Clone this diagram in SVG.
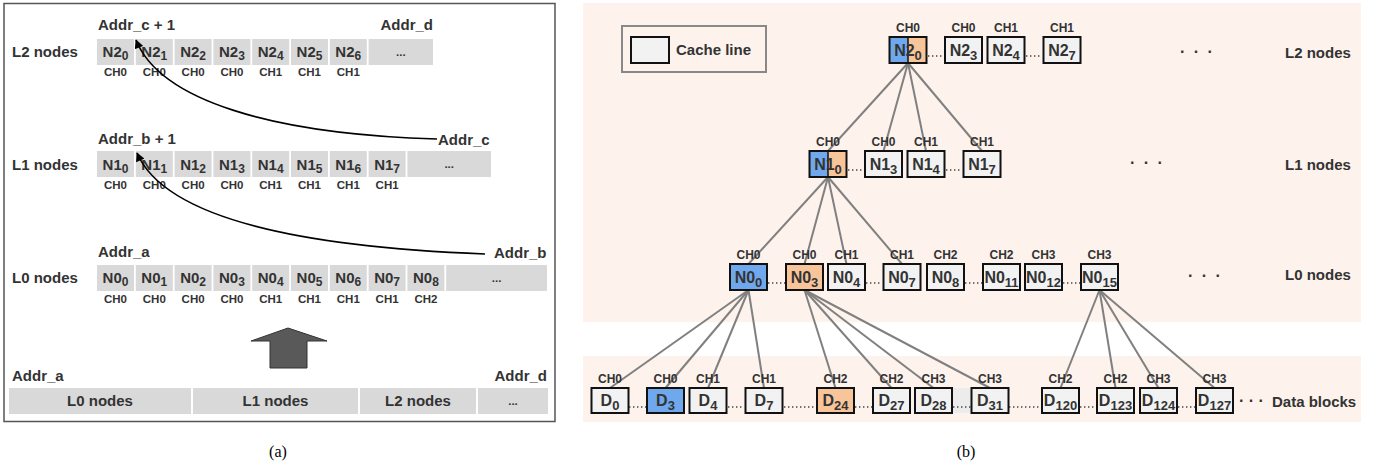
<svg xmlns="http://www.w3.org/2000/svg" width="1378" height="466" viewBox="0 0 1378 466">
<style>
text{font-family:"Liberation Sans",Arial,sans-serif;font-weight:bold;fill:#333}
.lbl{font-size:15px}
.cell{fill:#d9d9d9}
.ct{font-size:15px;text-anchor:middle}
.sub{font-size:12px}
.ch{font-size:11.5px;text-anchor:middle}
.rch{font-size:12px;text-anchor:middle}
.box{fill:#f2f2f2;stroke:#111;stroke-width:2}
.blue{fill:#6fa8ec}
.orange{fill:#f8c49a}
.bt{font-size:16px;text-anchor:middle}
.bsub{font-size:13px}
.dots{stroke:#444;stroke-width:1.4;stroke-dasharray:1.4 2.6}
.edge{stroke:#808080;stroke-width:2;fill:none}
.curve{stroke:#000;stroke-width:1.6;fill:none}
.cap{font-family:"Liberation Serif","Times New Roman",serif;font-weight:normal;font-size:16px;text-anchor:middle;fill:#000}
.ell{font-size:16px;letter-spacing:2px}
.ell2{font-size:16px}
</style>
<defs>
<marker id="ah" viewBox="0 0 10 10" refX="9" refY="5" markerWidth="10" markerHeight="9" markerUnits="userSpaceOnUse" orient="auto">
<path d="M0,0 L10,5 L0,10 z" fill="#000"/>
</marker>
</defs>
<rect width="1378" height="466" fill="#fff"/>

<!-- ===== Panel (a) ===== -->
<g id="panel-a">
<rect x="4" y="3.5" width="551" height="418" fill="#fff" stroke="#555" stroke-width="1.5"/>
</g>

<g id="row-l2">
<text class="lbl" x="12" y="57">L2 nodes</text>
<text class="lbl" x="98" y="30">Addr_c + 1</text>
<text class="lbl" x="433" y="30" text-anchor="end">Addr_d</text>
<rect class="cell" x="97" y="39" width="37" height="26"/>
<rect class="cell" x="135.8" y="39" width="37" height="26"/>
<rect class="cell" x="174.6" y="39" width="37" height="26"/>
<rect class="cell" x="213.4" y="39" width="37" height="26"/>
<rect class="cell" x="252.2" y="39" width="37" height="26"/>
<rect class="cell" x="291" y="39" width="37" height="26"/>
<rect class="cell" x="329.8" y="39" width="37" height="26"/>
<rect class="cell" x="368.6" y="39" width="64.4" height="26"/>
<text class="ct" x="115.5" y="57">N2<tspan class="sub" dy="3">0</tspan></text>
<text class="ct" x="154.3" y="57">N2<tspan class="sub" dy="3">1</tspan></text>
<text class="ct" x="193.1" y="57">N2<tspan class="sub" dy="3">2</tspan></text>
<text class="ct" x="231.9" y="57">N2<tspan class="sub" dy="3">3</tspan></text>
<text class="ct" x="270.7" y="57">N2<tspan class="sub" dy="3">4</tspan></text>
<text class="ct" x="309.5" y="57">N2<tspan class="sub" dy="3">5</tspan></text>
<text class="ct" x="348.3" y="57">N2<tspan class="sub" dy="3">6</tspan></text>
<text class="ch" x="400.8" y="56">...</text>
<text class="ch" x="115.5" y="76">CH0</text>
<text class="ch" x="154.3" y="76">CH0</text>
<text class="ch" x="193.1" y="76">CH0</text>
<text class="ch" x="231.9" y="76">CH0</text>
<text class="ch" x="270.7" y="76">CH1</text>
<text class="ch" x="309.5" y="76">CH1</text>
<text class="ch" x="348.3" y="76">CH1</text>
</g>

<g id="row-l1">
<text class="lbl" x="12" y="170">L1 nodes</text>
<text class="lbl" x="98" y="144">Addr_b + 1</text>
<text class="lbl" x="438" y="145">Addr_c</text>
<rect class="cell" x="97" y="151" width="37" height="26"/>
<rect class="cell" x="135.8" y="151" width="37" height="26"/>
<rect class="cell" x="174.6" y="151" width="37" height="26"/>
<rect class="cell" x="213.4" y="151" width="37" height="26"/>
<rect class="cell" x="252.2" y="151" width="37" height="26"/>
<rect class="cell" x="291" y="151" width="37" height="26"/>
<rect class="cell" x="329.8" y="151" width="37" height="26"/>
<rect class="cell" x="368.6" y="151" width="37" height="26"/>
<rect class="cell" x="407.4" y="151" width="83.6" height="26"/>
<text class="ct" x="115.5" y="170">N1<tspan class="sub" dy="3">0</tspan></text>
<text class="ct" x="154.3" y="170">N1<tspan class="sub" dy="3">1</tspan></text>
<text class="ct" x="193.1" y="170">N1<tspan class="sub" dy="3">2</tspan></text>
<text class="ct" x="231.9" y="170">N1<tspan class="sub" dy="3">3</tspan></text>
<text class="ct" x="270.7" y="170">N1<tspan class="sub" dy="3">4</tspan></text>
<text class="ct" x="309.5" y="170">N1<tspan class="sub" dy="3">5</tspan></text>
<text class="ct" x="348.3" y="170">N1<tspan class="sub" dy="3">6</tspan></text>
<text class="ct" x="387.1" y="170">N1<tspan class="sub" dy="3">7</tspan></text>
<text class="ch" x="449.2" y="168">...</text>
<text class="ch" x="115.5" y="189">CH0</text>
<text class="ch" x="154.3" y="189">CH0</text>
<text class="ch" x="193.1" y="189">CH0</text>
<text class="ch" x="231.9" y="189">CH0</text>
<text class="ch" x="270.7" y="189">CH1</text>
<text class="ch" x="309.5" y="189">CH1</text>
<text class="ch" x="348.3" y="189">CH1</text>
<text class="ch" x="387.1" y="189">CH1</text>
</g>

<g id="row-l0">
<text class="lbl" x="12" y="283">L0 nodes</text>
<text class="lbl" x="98" y="257">Addr_a</text>
<text class="lbl" x="494" y="258">Addr_b</text>
<rect class="cell" x="97" y="265" width="37" height="26"/>
<rect class="cell" x="135.8" y="265" width="37" height="26"/>
<rect class="cell" x="174.6" y="265" width="37" height="26"/>
<rect class="cell" x="213.4" y="265" width="37" height="26"/>
<rect class="cell" x="252.2" y="265" width="37" height="26"/>
<rect class="cell" x="291" y="265" width="37" height="26"/>
<rect class="cell" x="329.8" y="265" width="37" height="26"/>
<rect class="cell" x="368.6" y="265" width="37" height="26"/>
<rect class="cell" x="407.4" y="265" width="37" height="26"/>
<rect class="cell" x="446.2" y="265" width="100.8" height="26"/>
<text class="ct" x="115.5" y="283">N0<tspan class="sub" dy="3">0</tspan></text>
<text class="ct" x="154.3" y="283">N0<tspan class="sub" dy="3">1</tspan></text>
<text class="ct" x="193.1" y="283">N0<tspan class="sub" dy="3">2</tspan></text>
<text class="ct" x="231.9" y="283">N0<tspan class="sub" dy="3">3</tspan></text>
<text class="ct" x="270.7" y="283">N0<tspan class="sub" dy="3">4</tspan></text>
<text class="ct" x="309.5" y="283">N0<tspan class="sub" dy="3">5</tspan></text>
<text class="ct" x="348.3" y="283">N0<tspan class="sub" dy="3">6</tspan></text>
<text class="ct" x="387.1" y="283">N0<tspan class="sub" dy="3">7</tspan></text>
<text class="ct" x="425.9" y="283">N0<tspan class="sub" dy="3">8</tspan></text>
<text class="ch" x="496.6" y="282">...</text>
<text class="ch" x="115.5" y="303">CH0</text>
<text class="ch" x="154.3" y="303">CH0</text>
<text class="ch" x="193.1" y="303">CH0</text>
<text class="ch" x="231.9" y="303">CH0</text>
<text class="ch" x="270.7" y="303">CH1</text>
<text class="ch" x="309.5" y="303">CH1</text>
<text class="ch" x="348.3" y="303">CH1</text>
<text class="ch" x="387.1" y="303">CH1</text>
<text class="ch" x="425.9" y="303">CH2</text>
</g>

<g id="connectors-a">
<path class="curve" d="M437,139 C270,134 160,100 136,40" marker-end="url(#ah)"/>
<path class="curve" d="M485,254 C300,247 165,218 137,153" marker-end="url(#ah)"/>
</g>

<g id="big-arrow">
<polygon points="288,328 251,341 270,341 270,368 307,368 307,341 327,341" fill="#595959" stroke="#333" stroke-width="1"/>
</g>

<g id="layout-bar">
<text class="lbl" x="12" y="381">Addr_a</text>
<text class="lbl" x="547" y="381" text-anchor="end">Addr_d</text>
<rect class="cell" x="9" y="388" width="182" height="26"/>
<rect class="cell" x="193" y="388" width="165" height="26"/>
<rect class="cell" x="360" y="388" width="116" height="26"/>
<rect class="cell" x="478" y="388" width="70" height="26"/>
<text class="ct" x="100" y="406">L0 nodes</text>
<text class="ct" x="275.5" y="406">L1 nodes</text>
<text class="ct" x="418" y="406">L2 nodes</text>
<text class="ch" x="513" y="405">...</text>
</g>
<text class="cap" x="278" y="457">(a)</text>

<!-- ===== Panel (b) ===== -->
<g id="panel-b-bg">
<rect x="583" y="3" width="778" height="319" fill="#fdf2ec"/>
<rect x="583" y="356" width="778" height="66" fill="#fdf2ec"/>
<rect x="953" y="388" width="19" height="25" fill="#ececec"/>
</g>

<g id="legend">
<rect x="622" y="26" width="144" height="46" fill="none" stroke="#888" stroke-width="2"/>
<rect class="box" x="631" y="37" width="38" height="26"/>
<text class="lbl" x="676" y="55">Cache line</text>
</g>

<g id="connectors-b">
<line class="edge" x1="908" y1="63" x2="828" y2="151"/>
<line class="edge" x1="908" y1="63" x2="883.5" y2="151"/>
<line class="edge" x1="908" y1="63" x2="926" y2="151"/>
<line class="edge" x1="908" y1="63" x2="982" y2="151"/>
<line class="edge" x1="828" y1="177" x2="748.5" y2="264"/>
<line class="edge" x1="828" y1="177" x2="804.5" y2="264"/>
<line class="edge" x1="828" y1="177" x2="846.5" y2="264"/>
<line class="edge" x1="828" y1="177" x2="902" y2="264"/>
<line class="edge" x1="748.5" y1="290" x2="610" y2="388"/>
<line class="edge" x1="748.5" y1="290" x2="665.5" y2="388"/>
<line class="edge" x1="748.5" y1="290" x2="708" y2="388"/>
<line class="edge" x1="748.5" y1="290" x2="764" y2="388"/>
<line class="edge" x1="804.5" y1="290" x2="835.5" y2="388"/>
<line class="edge" x1="804.5" y1="290" x2="891.5" y2="388"/>
<line class="edge" x1="804.5" y1="290" x2="933.5" y2="388"/>
<line class="edge" x1="804.5" y1="290" x2="990" y2="388"/>
<line class="edge" x1="1099.5" y1="290" x2="1060.5" y2="388"/>
<line class="edge" x1="1099.5" y1="290" x2="1115.5" y2="388"/>
<line class="edge" x1="1099.5" y1="290" x2="1158.5" y2="388"/>
<line class="edge" x1="1099.5" y1="290" x2="1214.5" y2="388"/>
<!-- dotted gaps -->
<line class="dots" x1="928" y1="56" x2="944" y2="56"/>
<line class="dots" x1="1026" y1="56" x2="1042" y2="56"/>
<line class="dots" x1="848" y1="170" x2="864" y2="170"/>
<line class="dots" x1="946" y1="170" x2="962" y2="170"/>
<line class="dots" x1="768" y1="283" x2="785" y2="283"/>
<line class="dots" x1="866" y1="283" x2="882" y2="283"/>
<line class="dots" x1="965" y1="283" x2="982" y2="283"/>
<line class="dots" x1="1063" y1="283" x2="1080" y2="283"/>
<line class="dots" x1="629" y1="407" x2="646" y2="407"/>
<line class="dots" x1="728" y1="407" x2="744" y2="407"/>
<line class="dots" x1="784" y1="407" x2="816" y2="407"/>
<line class="dots" x1="855" y1="407" x2="872" y2="407"/>
<line class="dots" x1="953" y1="407" x2="971" y2="407"/>
<line class="dots" x1="1009" y1="407" x2="1041" y2="407"/>
<line class="dots" x1="1080" y1="407" x2="1096" y2="407"/>
<line class="dots" x1="1178" y1="407" x2="1195" y2="407"/>
</g>

<g id="L2-nodes">
<text class="rch" x="908" y="32">CH0</text>
<text class="rch" x="963.5" y="32">CH0</text>
<text class="rch" x="1006" y="32">CH1</text>
<text class="rch" x="1062" y="32">CH1</text>
<g id="N2_0">
<rect class="blue" x="889.5" y="37" width="18.5" height="26"/>
<rect class="orange" x="908" y="37" width="18.5" height="26"/>
<rect x="889.5" y="37" width="37" height="26" fill="none" stroke="#111" stroke-width="2"/>
<line x1="908" y1="37" x2="908" y2="63" stroke="#111" stroke-width="1.5"/>
<text class="bt" x="908" y="56">N2<tspan class="bsub" dy="4">0</tspan></text>
</g>
<g id="N2_3"><rect class="box" x="945" y="37" width="37" height="26"/><text class="bt" x="963.5" y="56">N2<tspan class="bsub" dy="4">3</tspan></text></g>
<g id="N2_4"><rect class="box" x="987.5" y="37" width="37" height="26"/><text class="bt" x="1006" y="56">N2<tspan class="bsub" dy="4">4</tspan></text></g>
<g id="N2_7"><rect class="box" x="1043.5" y="37" width="37" height="26"/><text class="bt" x="1062" y="56">N2<tspan class="bsub" dy="4">7</tspan></text></g>
<text class="ell" x="1180" y="57">· · ·</text>
<text class="lbl" x="1285" y="58">L2 nodes</text>
</g>

<g id="L1-nodes">
<text class="rch" x="828" y="146">CH0</text>
<text class="rch" x="883.5" y="146">CH0</text>
<text class="rch" x="926" y="146">CH1</text>
<text class="rch" x="982" y="146">CH1</text>
<g id="N1_0">
<rect class="blue" x="809.5" y="151" width="18.5" height="26"/>
<rect class="orange" x="828" y="151" width="18.5" height="26"/>
<rect x="809.5" y="151" width="37" height="26" fill="none" stroke="#111" stroke-width="2"/>
<line x1="828" y1="151" x2="828" y2="177" stroke="#111" stroke-width="1.5"/>
<text class="bt" x="828" y="170">N1<tspan class="bsub" dy="4">0</tspan></text>
</g>
<g id="N1_3"><rect class="box" x="865" y="151" width="37" height="26"/><text class="bt" x="883.5" y="170">N1<tspan class="bsub" dy="4">3</tspan></text></g>
<g id="N1_4"><rect class="box" x="907.5" y="151" width="37" height="26"/><text class="bt" x="926" y="170">N1<tspan class="bsub" dy="4">4</tspan></text></g>
<g id="N1_7"><rect class="box" x="963.5" y="151" width="37" height="26"/><text class="bt" x="982" y="170">N1<tspan class="bsub" dy="4">7</tspan></text></g>
<text class="ell" x="1130" y="168">· · ·</text>
<text class="lbl" x="1285" y="170">L1 nodes</text>
</g>

<g id="L0-nodes">
<text class="rch" x="748.5" y="259">CH0</text>
<text class="rch" x="804.5" y="259">CH0</text>
<text class="rch" x="846.5" y="259">CH1</text>
<text class="rch" x="902" y="259">CH1</text>
<text class="rch" x="945.5" y="259">CH2</text>
<text class="rch" x="1001.5" y="259">CH2</text>
<text class="rch" x="1043.5" y="259">CH3</text>
<text class="rch" x="1099.5" y="259">CH3</text>
<g id="N0_0"><rect class="box blue" x="730" y="264" width="37" height="26"/><text class="bt" x="748.5" y="283">N0<tspan class="bsub" dy="4">0</tspan></text></g>
<g id="N0_3"><rect class="box orange" x="786" y="264" width="37" height="26"/><text class="bt" x="804.5" y="283">N0<tspan class="bsub" dy="4">3</tspan></text></g>
<g id="N0_4"><rect class="box" x="828" y="264" width="37" height="26"/><text class="bt" x="846.5" y="283">N0<tspan class="bsub" dy="4">4</tspan></text></g>
<g id="N0_7"><rect class="box" x="883.5" y="264" width="37" height="26"/><text class="bt" x="902" y="283">N0<tspan class="bsub" dy="4">7</tspan></text></g>
<g id="N0_8"><rect class="box" x="927" y="264" width="37" height="26"/><text class="bt" x="945.5" y="283">N0<tspan class="bsub" dy="4">8</tspan></text></g>
<g id="N0_11"><rect class="box" x="983" y="264" width="37" height="26"/><text class="bt" x="1001.5" y="283">N0<tspan class="bsub" dy="4">11</tspan></text></g>
<g id="N0_12"><rect class="box" x="1025" y="264" width="37" height="26"/><text class="bt" x="1043.5" y="283">N0<tspan class="bsub" dy="4">12</tspan></text></g>
<g id="N0_15"><rect class="box" x="1081" y="264" width="37" height="26"/><text class="bt" x="1099.5" y="283">N0<tspan class="bsub" dy="4">15</tspan></text></g>
<text class="ell" x="1188" y="281">· · ·</text>
<text class="lbl" x="1285" y="280">L0 nodes</text>
</g>

<g id="data-blocks">
<text class="rch" x="610" y="383">CH0</text>
<text class="rch" x="665.5" y="383">CH0</text>
<text class="rch" x="708" y="383">CH1</text>
<text class="rch" x="764" y="383">CH1</text>
<text class="rch" x="835.5" y="383">CH2</text>
<text class="rch" x="891.5" y="383">CH2</text>
<text class="rch" x="933.5" y="383">CH3</text>
<text class="rch" x="990" y="383">CH3</text>
<text class="rch" x="1060.5" y="383">CH2</text>
<text class="rch" x="1115.5" y="383">CH2</text>
<text class="rch" x="1158.5" y="383">CH3</text>
<text class="rch" x="1214.5" y="383">CH3</text>
<g id="D0"><rect class="box" x="591.5" y="388" width="37" height="25"/><text class="bt" x="610" y="406">D<tspan class="bsub" dy="4">0</tspan></text></g>
<g id="D3"><rect class="box blue" x="647" y="388" width="37" height="25"/><text class="bt" x="665.5" y="406">D<tspan class="bsub" dy="4">3</tspan></text></g>
<g id="D4"><rect class="box" x="689.5" y="388" width="37" height="25"/><text class="bt" x="708" y="406">D<tspan class="bsub" dy="4">4</tspan></text></g>
<g id="D7"><rect class="box" x="745.5" y="388" width="37" height="25"/><text class="bt" x="764" y="406">D<tspan class="bsub" dy="4">7</tspan></text></g>
<g id="D24"><rect class="box orange" x="817" y="388" width="37" height="25"/><text class="bt" x="835.5" y="406">D<tspan class="bsub" dy="4">24</tspan></text></g>
<g id="D27"><rect class="box" x="873" y="388" width="37" height="25"/><text class="bt" x="891.5" y="406">D<tspan class="bsub" dy="4">27</tspan></text></g>
<g id="D28"><rect class="box" x="915" y="388" width="37" height="25"/><text class="bt" x="933.5" y="406">D<tspan class="bsub" dy="4">28</tspan></text></g>
<g id="D31"><rect class="box" x="971.5" y="388" width="37" height="25"/><text class="bt" x="990" y="406">D<tspan class="bsub" dy="4">31</tspan></text></g>
<g id="D120"><rect class="box" x="1042" y="388" width="37" height="25"/><text class="bt" x="1060.5" y="406">D<tspan class="bsub" dy="4">120</tspan></text></g>
<g id="D123"><rect class="box" x="1097" y="388" width="37" height="25"/><text class="bt" x="1115.5" y="406">D<tspan class="bsub" dy="4">123</tspan></text></g>
<g id="D124"><rect class="box" x="1140" y="388" width="37" height="25"/><text class="bt" x="1158.5" y="406">D<tspan class="bsub" dy="4">124</tspan></text></g>
<g id="D127"><rect class="box" x="1196" y="388" width="37" height="25"/><text class="bt" x="1214.5" y="406">D<tspan class="bsub" dy="4">127</tspan></text></g>
<text class="ell2" x="1239" y="406">· · ·</text>
<text class="lbl" x="1272" y="407">Data blocks</text>
</g>
<text class="cap" x="966" y="457">(b)</text>
</svg>
